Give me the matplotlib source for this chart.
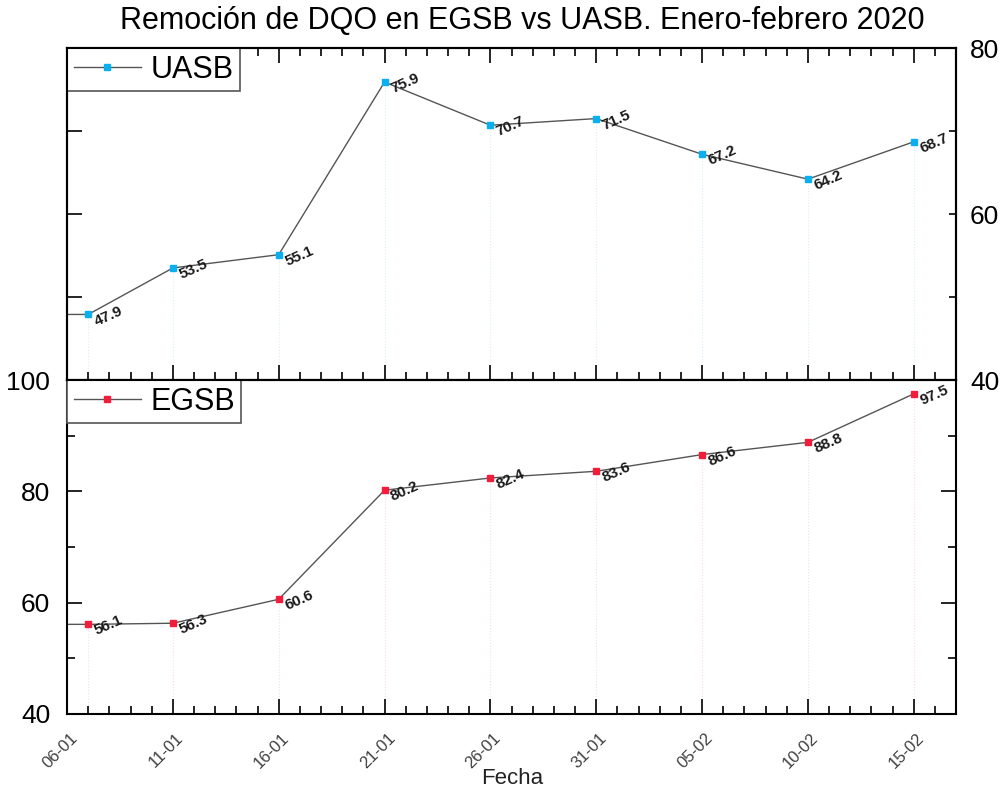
import matplotlib
matplotlib.use('Agg')
import matplotlib.pyplot as plt
import matplotlib.dates as mdates
import matplotlib.transforms as mtransforms
import numpy as np
import datetime as dt

plt.rcParams['font.family'] = ['Liberation Sans', 'DejaVu Sans']

# data
fechas = ['2020-01-07', '2020-01-11', '2020-01-16', '2020-01-21', '2020-01-26',
          '2020-01-31', '2020-02-05', '2020-02-10', '2020-02-15']
uasb = [47.9, 53.5, 55.1, 75.9, 70.7, 71.5, 67.2, 64.2, 68.7]
egsb = [56.1, 56.3, 60.6, 80.2, 82.4, 83.6, 86.6, 88.8, 97.5]
x_ini = '2020-01-06'
x_fin = '2020-02-17'

dates = [dt.datetime.strptime(d, '%Y-%m-%d') for d in fechas]
xmin = dt.datetime.strptime(x_ini, '%Y-%m-%d')
xmax = dt.datetime.strptime(x_fin, '%Y-%m-%d')

azul = '#0AAFEF'
rojo = '#F21D3A'
gris = '#555555'

fig = plt.figure(figsize=(10.05, 7.94), dpi=100)
ax1 = fig.add_axes([0.0667, 0.5214, 0.8846, 0.4181])
ax2 = fig.add_axes([0.0667, 0.1008, 0.8846, 0.4206])


def panel(ax, vals, color, drop, name, ylim):
    ax.vlines(dates, ylim[0], vals, colors=drop, linestyles=':', lw=0.8, zorder=1)
    ax.plot([xmin] + dates, [vals[0]] + vals, color=gris, lw=1.0, zorder=2)
    ax.plot(dates, vals, ls='none', marker='s', ms=4.5, color=color,
            mec=color, zorder=3)
    # legend handle: line + marker
    h, = ax.plot([], [], color=gris, lw=1.0, marker='s', ms=4.5, mfc=color, mec=color)
    leg = ax.legend([h], [name], loc='upper left', borderaxespad=0,
                    fancybox=False, edgecolor=gris, fontsize=22,
                    handlelength=2.2, framealpha=1, borderpad=0.22,
                    handletextpad=0.3)
    leg.get_frame().set_linewidth(1.2)
    for d, v in zip(dates, vals):
        ax.annotate(f'{v:.1f}', (d, v), xytext=(6, -8), textcoords='offset points',
                    fontsize=11, fontweight='bold', color='#1a1a1a', rotation=24,
                    rotation_mode='anchor', ha='left', va='baseline', zorder=4)
    ax.set_xlim(xmin, xmax)
    ax.set_ylim(*ylim)
    for s in ax.spines.values():
        s.set_linewidth(1.5)


panel(ax1, uasb, azul, '#d9eef9', 'UASB', (40, 80))
panel(ax2, egsb, rojo, '#f9dde2', 'EGSB', (40, 100))

# x ticks every 5 days from 06-01, minor every day
major_x = [mdates.date2num(xmin) + 5 * i for i in range(9)]
for ax in (ax1, ax2):
    ax.set_xticks(major_x)
    ax.xaxis.set_minor_locator(mdates.DayLocator())
    ax.xaxis.set_major_formatter(mdates.DateFormatter('%d-%m'))

ax1.tick_params(axis='x', which='both', direction='in', top=True, bottom=True,
                labelbottom=False, width=1.2)
ax1.tick_params(axis='x', which='major', length=11)
ax1.tick_params(axis='x', which='minor', length=6)

ax2.tick_params(axis='x', which='both', direction='in', top=False, bottom=True, width=1.2)
ax2.tick_params(axis='x', which='major', length=11, pad=12, labelsize=12,
                labelcolor='#404040', labelrotation=45)
ax2.tick_params(axis='x', which='minor', length=6)
shift = mtransforms.ScaledTranslation(-7 / 100, 0, fig.dpi_scale_trans)
for lab in ax2.get_xticklabels():
    lab.set_transform(lab.get_transform() + shift)

# top panel y: left ticks no labels, right ticks with labels
ax1.set_yticks(np.arange(50, 71, 10))
ax1.tick_params(axis='y', which='both', direction='in', left=True, right=False,
                labelleft=False, length=11, width=1.2)
ax1r = ax1.twinx()
ax1r.set_ylim(40, 80)
ax1r.set_yticks([40, 60, 80])
ax1r.set_yticks([50, 70], minor=True)
ax1r.tick_params(axis='y', which='both', direction='in', length=5, width=1.2,
                 labelsize=19, pad=10)
for s in ax1r.spines.values():
    s.set_linewidth(1.5)

# bottom panel y
ax2.set_yticks([40, 60, 80, 100])
ax2.set_yticks([50, 70, 90], minor=True)
ax2.tick_params(axis='y', which='both', direction='in', left=True, right=True,
                width=1.2, labelsize=19, pad=12)
ax2.tick_params(axis='y', which='major', length=11)
ax2.tick_params(axis='y', which='minor', length=6)

fig.text(0.52, 0.974, 'Remoción de DQO en EGSB vs UASB. Enero-febrero 2020',
         ha='center', va='center', fontsize=22)
fig.text(0.51, 0.02, 'Fecha', ha='center', va='center', fontsize=16, color='#222222')

fig.savefig('out.png', dpi=100)
